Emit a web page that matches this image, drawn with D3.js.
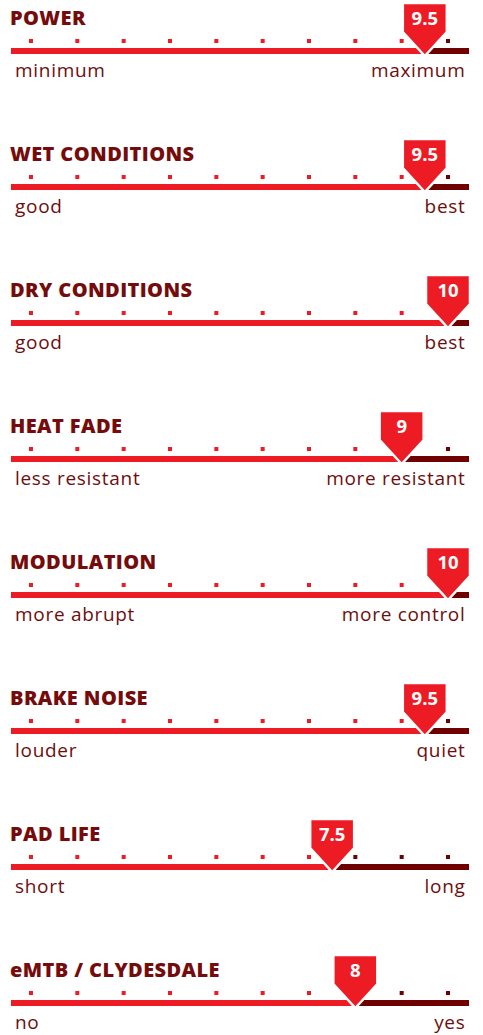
<!DOCTYPE html>
<html>
<head>
<meta charset="utf-8">
<script src="https://cdn.jsdelivr.net/npm/d3@7"></script>
<style>
  body { margin: 0; background: #fff; }
  svg { display: block; }
  .title { font-family: "Open Sans", Lato, sans-serif; font-weight: 800; fill: #750b0b; }
  .lbl { font-family: "Open Sans", Lato, sans-serif; fill: #6e0d0d; }
  .val { font-family: "Open Sans", Lato, sans-serif; font-weight: 700; fill: #fff; }
</style>
</head>
<body>
<script>
var titles = ["POWER", "WET CONDITIONS", "DRY CONDITIONS", "HEAT FADE",
  "MODULATION", "BRAKE NOISE", "PAD LIFE", "eMTB / CLYDESDALE"];
var scores = [9.5, 9.5, 10, 9, 10, 9.5, 7.5, 8];
var lowLabels = ["minimum", "good", "good", "less resistant", "more abrupt", "louder", "short", "no"];
var highLabels = ["maximum", "best", "best", "more resistant", "more control", "quiet", "long", "yes"];
var ticks = [1, 2, 3, 4, 5, 6, 7, 8, 9, 10];

var width = 483, height = 1035, rowH = 136;
var red = "#ed1c24", dark = "#6e0000";

// value 1 sits on the first dot, 10 on the last
var x = d3.scaleLinear().domain([1, 10]).range([31, 448]);
var barX0 = 11, barX1 = 469, barY = 48, barH = 6;

var svg = d3.select("body")
  .append("svg")
  .attr("width", width)
  .attr("height", height);

var rows = svg.selectAll("g.row")
  .data(titles.map(function(t, i) {
    return { title: t, score: scores[i], lo: lowLabels[i], hi: highLabels[i] };
  }))
  .enter()
  .append("g")
  .attr("class", "row")
  .attr("transform", function(d, i) { return "translate(0," + (i * rowH) + ")"; });

rows.append("text")
  .attr("class", "title")
  .attr("x", 10)
  .attr("y", 25)
  .attr("font-size", 20)
  .attr("letter-spacing", 0.4)
  .text(function(d) { return d.title; });

// tick dots
rows.each(function(d) {
  d3.select(this).selectAll("rect.dot")
    .data(ticks)
    .enter()
    .append("rect")
    .attr("class", "dot")
    .attr("x", function(t) { return x(t) - 2; })
    .attr("y", 39)
    .attr("width", 4)
    .attr("height", 4)
    .attr("fill", function(t) { return t <= d.score ? red : dark; });
});

// filled and remaining bar
rows.append("rect")
  .attr("x", barX0)
  .attr("y", barY)
  .attr("width", function(d) { return x(d.score) - barX0; })
  .attr("height", barH)
  .attr("fill", red);

rows.append("rect")
  .attr("x", function(d) { return x(d.score); })
  .attr("y", barY)
  .attr("width", function(d) { return Math.max(0, barX1 - x(d.score)); })
  .attr("height", barH)
  .attr("fill", dark);

// score marker
var mw = 22;
rows.append("path")
  .attr("d", function(d) {
    var c = x(d.score);
    return "M" + (c - mw) + ",3 L" + (c + mw) + ",3 L" + (c + mw) + ",32 L" + c + ",56 L" +
      (c - mw) + ",32 Z";
  })
  .attr("fill", red)
  .attr("stroke", "#fff")
  .attr("stroke-width", 2.5)
  .attr("stroke-linejoin", "miter");

rows.append("text")
  .attr("class", "val")
  .attr("x", function(d) { return x(d.score); })
  .attr("y", 25)
  .attr("text-anchor", "middle")
  .attr("font-size", 18.5)
  .text(function(d) { return d.score; });

rows.append("text")
  .attr("class", "lbl")
  .attr("x", 15)
  .attr("y", 77)
  .attr("font-size", 19)
  .attr("letter-spacing", 0.7)
  .text(function(d) { return d.lo; });

rows.append("text")
  .attr("class", "lbl")
  .attr("x", 465.5)
  .attr("y", 77)
  .attr("text-anchor", "end")
  .attr("font-size", 19)
  .attr("letter-spacing", 0.7)
  .text(function(d) { return d.hi; });
</script>
</body>
</html>
